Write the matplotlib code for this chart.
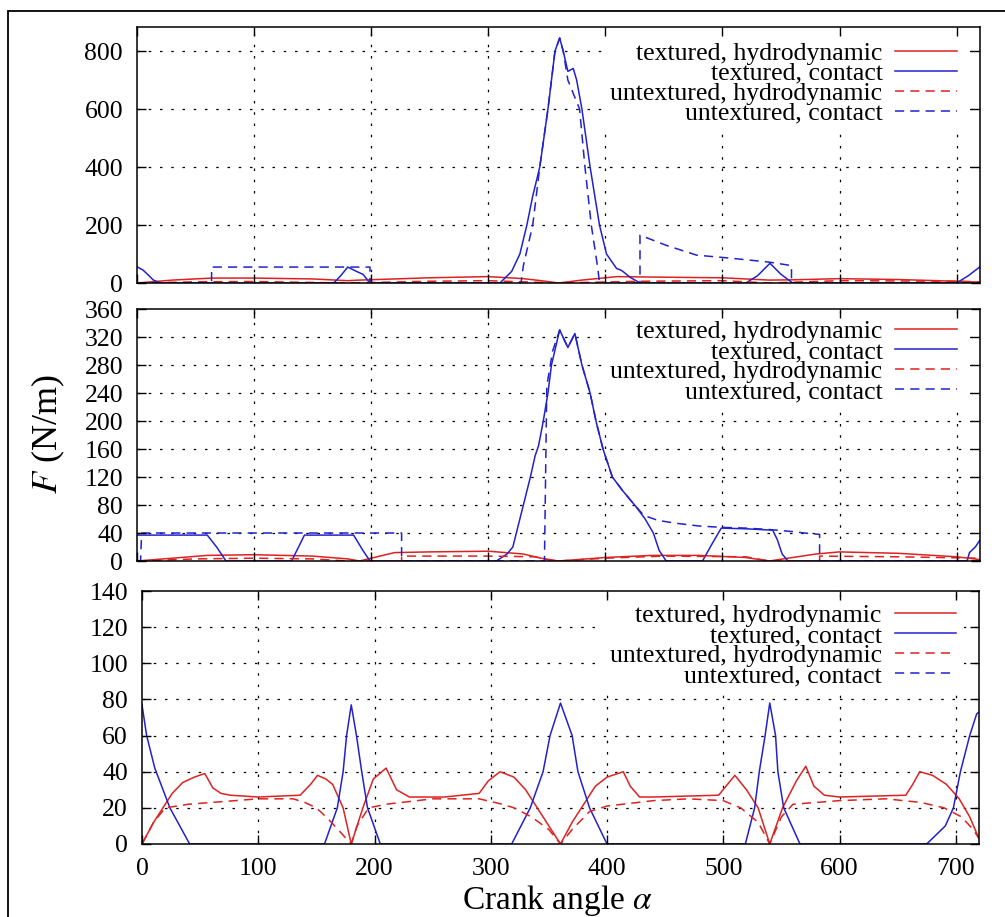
import matplotlib
matplotlib.use("Agg")
import matplotlib.pyplot as plt
from matplotlib.patches import Rectangle

plt.rcParams['font.family'] = ['Liberation Serif', 'DejaVu Serif']
plt.rcParams['mathtext.fontset'] = 'stix'

RED = '#dd2222'
BLUE = '#2222cc'
labels = ['textured, hydrodynamic', 'textured, contact',
          'untextured, hydrodynamic', 'untextured, contact']

# ---- top panel ----
th1_x = [0, 30, 64, 100, 150, 180, 190, 250, 300, 330, 345, 360, 380, 410, 450, 500, 540, 560, 600, 650, 700, 720]
th1_y = [0, 10, 17, 17, 14, 8, 10, 18, 22, 15, 8, 0, 10, 22, 20, 18, 10, 11, 15, 12, 6, 3]
tc1_x = [0, 5, 9, 14, 20, 168, 174, 180, 188, 193, 199, 310, 320, 327, 333, 338, 344, 351, 357, 361, 364, 368,
         372.6, 375.5, 380, 387, 395, 401, 409.6, 413, 415, 421, 429.6, 520, 530, 540.6, 550, 560, 700, 710, 720]
tc1_y = [56, 45, 30, 10, 0, 0, 25, 55, 39, 30, 0, 0, 40, 100, 200, 300, 400, 600, 800, 845, 800, 730,
         740, 700, 600, 400, 200, 100, 50, 45, 40, 20, 0, 0, 25, 68, 30, 0, 0, 25, 56]
uh1_x = [0, 50, 100, 180, 250, 300, 360, 430, 500, 540, 600, 700, 720]
uh1_y = [0, 4, 5, 0, 6, 8, 0, 6, 8, 0, 8, 6, 4]
uc1_x = [0, 63.7, 63.7, 199, 199, 328, 330, 338, 344, 351, 357, 361, 364, 368, 378, 382.6, 388, 393.6, 395,
         429.6, 429.6, 452, 478, 506, 540, 559, 559, 720]
uc1_y = [0, 0, 55, 55, 0, 0, 60, 200, 400, 600, 800, 845, 800, 700, 600, 400, 200, 50, 0,
         0, 165, 130, 96, 86, 72, 60, 0, 0]

# ---- middle panel ----
th2_x = [0, 30, 60, 100, 150, 180, 190, 220, 250, 300, 330, 345, 360, 400, 440, 480, 520, 540, 580, 600, 650, 700, 720]
th2_y = [0, 4, 8, 9, 7, 3, 0, 12, 13, 14, 10, 4, 0, 5, 8, 8, 5, 0, 10, 13, 11, 6, 2]
tc2_x = [0, 60, 68, 76, 132, 138, 143, 185, 193, 199, 307, 316, 321, 324, 330, 336, 340, 343, 347, 351, 354,
         361, 368, 374, 380, 387, 392, 398, 406, 415, 426, 434, 441, 446, 452, 483, 491, 499, 520, 543, 547,
         551, 556, 709, 711, 716, 720]
tc2_y = [37, 37, 20, 0, 0, 20, 37, 37, 15, 0, 0, 10, 20, 40, 80, 120, 150, 165, 200, 240, 280,
         330, 305, 325, 280, 240, 200, 160, 120, 100, 78, 60, 40, 15, 0, 0, 24, 47, 46, 44, 30,
         10, 0, 0, 12, 20, 30]
uh2_x = [0, 50, 100, 150, 180, 226, 226, 300, 340, 350, 360, 400, 450, 520, 540, 583, 583, 650, 720]
uh2_y = [0, 3, 4, 3, 0, 0, 7, 7, 6, 2, 0, 4, 7, 6, 0, 0, 7, 6, 4]
uc2_x = [0, 3, 4, 226, 226, 348, 350, 355, 361, 368, 374, 380, 387, 392, 398, 406, 415, 426, 433, 445, 460,
         480, 500, 520, 540, 560, 570, 583, 583, 720]
uc2_y = [0, 0, 40, 40, 0, 0, 250, 300, 330, 305, 325, 280, 240, 200, 160, 120, 100, 78, 65, 58, 54,
         50, 48, 47, 45, 42, 40, 38, 0, 0]

# ---- bottom panel ----
th3_x = [0, 10, 18, 26, 35, 45, 54, 61, 68, 76, 100, 136, 145, 151, 158, 164, 173, 180, 190, 199, 210, 219, 230,
         260, 290, 298, 308, 320, 330, 340, 350, 360, 370, 380, 390, 400, 414, 420, 428, 440, 496, 510, 520, 530,
         540, 551, 563, 571, 578, 587, 600, 657, 663, 669, 680, 692, 703, 712, 720]
th3_y = [0, 12, 20, 28, 34, 37, 39, 31, 28, 27, 26, 27, 33, 38, 36, 33, 20, 0, 20, 36, 42, 30, 26,
         26, 28, 35, 40, 37, 30, 20, 10, 0, 12, 22, 32, 37, 40, 32, 26, 26, 27, 38, 30, 20,
         0, 20, 35, 43, 32, 27, 26, 27, 33, 40, 38, 33, 25, 15, 3]
tc3_x = [0, 4, 11, 24, 41, 157, 168, 173, 176, 180, 184.5, 189, 194, 205, 318, 334, 345, 351, 360, 370, 375,
         385, 400, 519, 527, 531, 536, 540, 545, 547, 552, 566, 675, 691, 698, 704, 712, 718, 720]
tc3_y = [77, 60, 42, 20, 0, 0, 20, 40, 60, 77, 60, 40, 20, 0, 0, 20, 40, 60, 78, 60, 40,
         20, 0, 0, 20, 40, 60, 78, 60, 40, 20, 0, 0, 10, 20, 40, 60, 72, 73]
uh3_x = [0, 10, 20, 40, 80, 100, 130, 140, 150, 160, 170, 180, 185, 195, 210, 250, 290, 310, 320, 335, 350, 360,
         370, 385, 400, 440, 470, 500, 515, 530, 540, 550, 560, 600, 640, 670, 690, 705, 715, 720]
uh3_y = [0, 12, 20, 22, 24, 25, 25, 23, 20, 14, 7, 0, 10, 20, 22, 25, 25, 22, 20, 15, 8, 0,
         8, 18, 21, 24, 25, 24, 20, 12, 0, 15, 22, 24, 25, 23, 20, 15, 8, 3]

panels = [
    (th1_x, th1_y, tc1_x, tc1_y, uh1_x, uh1_y, uc1_x, uc1_y),
    (th2_x, th2_y, tc2_x, tc2_y, uh2_x, uh2_y, uc2_x, uc2_y),
    (th3_x, th3_y, tc3_x, tc3_y, uh3_x, uh3_y, [], []),
]
ylims = [883, 360, 140]
ysteps = [200, 40, 20]

W, H = 1005, 917
boxes = [(137, 980, 27, 283), (137, 980, 309, 561), (142, 979, 591, 844)]
leg_top = [0.972, 0.985, 0.978]

fig = plt.figure(figsize=(W / 100, H / 100), dpi=100)
fig.patches.append(Rectangle((8 / W, -0.01), 1.0, 1 - 11 / H + 0.01, transform=fig.transFigure,
                             fill=False, edgecolor='black', lw=1.3))

for i, (p, (l, r, t, b)) in enumerate(zip(panels, boxes)):
    ax = fig.add_axes([l / W, 1 - b / H, (r - l) / W, (b - t) / H])
    thx, thy, tcx, tcy, uhx, uhy, ucx, ucy = p
    ax.plot(thx, thy, color=RED, lw=1.1, label=labels[0])
    ax.plot(tcx, tcy, color=BLUE, lw=1.1, label=labels[1])
    ax.plot(uhx, uhy, color=RED, lw=1.1, dashes=(6, 4), label=labels[2])
    ax.plot(ucx, ucy, color=BLUE, lw=1.1, dashes=(6, 4), label=labels[3])
    ax.set_xlim(0, 720)
    ax.set_ylim(0, ylims[i])
    ax.set_xticks(range(0, 701, 100))
    ax.set_yticks(range(0, ylims[i] + 1, ysteps[i]))
    # dotted grid drawn under the legend box
    for xv in range(100, 701, 100):
        ax.axvline(xv, color='black', lw=0.9, dashes=(2, 7), zorder=0.5)
    for yv in range(ysteps[i], ylims[i] - 1, ysteps[i]):
        ax.axhline(yv, color='black', lw=0.9, dashes=(2, 7), zorder=0.5)
    ax.set_axisbelow(False)
    ax.tick_params(direction='in', length=6.5, width=1, top=True, right=True,
                   labelsize=18.5, pad=10)
    if i < 2:
        ax.tick_params(labelbottom=False)
    for s in ax.spines.values():
        s.set_linewidth(1.1)
    leg = ax.legend(loc='upper right', bbox_to_anchor=(0.982, leg_top[i]), fontsize=18.5,
                    markerfirst=False, frameon=True, fancybox=False, framealpha=1,
                    borderpad=0.3, labelspacing=-0.12, handlelength=2.4, handletextpad=0.5,
                    borderaxespad=0)
    leg.get_frame().set_edgecolor('none')
    leg.get_frame().set_facecolor('white')
    leg.set_zorder(2.2)
    for txt in leg.get_texts():
        txt.set_ha('right')

fig.text(48 / W, 1 - 434 / H, '$F$ (N/m)', rotation=90, ha='center', va='center', fontsize=26)
fig.text(557 / W, 1 - 900 / H, 'Crank angle $\\alpha$', ha='center', va='center', fontsize=24)

fig.savefig('out.png', dpi=100)
